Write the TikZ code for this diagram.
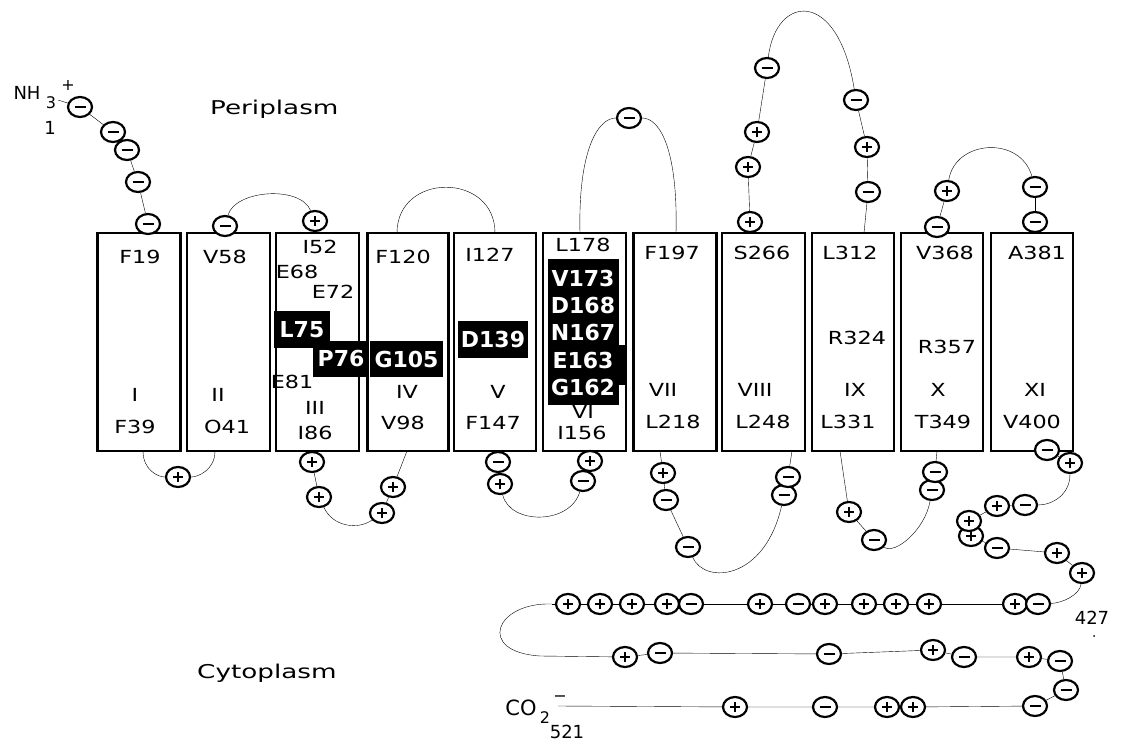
\documentclass[tikz,border=0pt]{standalone}
\usepackage{fontspec}
\setmainfont{DejaVu Sans}
\usepackage{graphicx}
\usetikzlibrary{shapes.geometric,backgrounds}
\newcommand{\hsc}[2][1.24]{\scalebox{#1}[1]{#2}}
\newcommand{\lbl}[3]{\node[lab] (#1) at (#2) {\hsc{#3}};}
\newcommand{\chP}[2]{\node[plusc] (#1) at (#2) {};}
\newcommand{\chN}[2]{\node[minusc] (#1) at (#2) {};}
\begin{document}
\begin{tikzpicture}[x=1pt,y=-1pt,
  tm/.style={draw, line width=2.4pt, minimum width=83pt, minimum height=218pt, inner sep=0pt},
  lab/.style={inner sep=0pt, font=\fontsize{18}{20}\selectfont},
  wl/.style={fill=black, text=white, inner sep=0pt, font=\fontsize{22}{24}\selectfont\bfseries},
  wt/.style={text=white, inner sep=0pt, font=\fontsize{22}{24}\selectfont\bfseries},
  chg/.style={ellipse, draw, line width=2.2pt, minimum width=24pt, minimum height=20pt, inner sep=0pt, fill=white},
  plusc/.style={chg, path picture={\draw[line width=2pt] ([xshift=-5pt]path picture bounding box.center) -- ([xshift=5pt]path picture bounding box.center) ([yshift=-5pt]path picture bounding box.center) -- ([yshift=5pt]path picture bounding box.center);}},
  minusc/.style={chg, path picture={\draw[line width=2.2pt] ([xshift=-5.5pt]path picture bounding box.center) -- ([xshift=5.5pt]path picture bounding box.center);}},
  con/.style={line width=2.1pt},
  big/.style={inner sep=0pt, font=\fontsize{19}{21}\selectfont},
  sm/.style={inner sep=0pt, font=\fontsize{16}{18}\selectfont},
]
\useasboundingbox (0,0) rectangle (1122,741);

% membrane helices
\node[tm] (b1) at (139,342) {};
\node[tm] (b2) at (228.5,342) {};
\node[tm] (b3) at (317.5,342) {};
\node[tm, minimum width=81pt] (b4) at (408,342) {};
\node[tm, minimum width=82pt] (b5) at (495,342) {};
\node[tm] (b6) at (584.5,342) {};
\node[tm] (b7) at (675,342) {};
\node[tm] (b8) at (763.5,342) {};
\node[tm, minimum width=82pt] (b9) at (853,342) {};
\node[tm, minimum width=82pt] (b10) at (942,342) {};
\node[tm, minimum width=82pt] (b11) at (1032,342) {};

% labels in helices
\lbl{l1a}{140,257}{F19}\lbl{l1b}{135,395}{I}\lbl{l1c}{135,427}{F39}
\lbl{l2a}{225,257}{V58}\lbl{l2b}{218,395}{II}\lbl{l2c}{227,427}{O41}
\lbl{l3a}{320,247}{I52}\lbl{l3b}{297,272}{E68}\lbl{l3c}{333,292}{E72}
\lbl{l3d}{292,382}{E81}\lbl{l3e}{315,408}{III}\lbl{l3f}{315,433}{I86}
\lbl{l4a}{403,257}{F120}\lbl{l4b}{407,392}{IV}\lbl{l4c}{403,423}{V98}
\lbl{l5a}{490,255}{I127}\lbl{l5b}{498,392}{V}\lbl{l5c}{493,423}{F147}
\lbl{l6a}{583,245}{L178}\lbl{l6b}{583,412}{VI}\lbl{l6c}{582,433}{I156}
\lbl{l7a}{672,253}{F197}\lbl{l7b}{663,390}{VII}\lbl{l7c}{673,422}{L218}
\lbl{l8a}{762,253}{S266}\lbl{l8b}{755,390}{VIII}\lbl{l8c}{763,422}{L248}
\lbl{l9a}{850,253}{L312}\lbl{l9d}{857,338}{R324}\lbl{l9b}{855,390}{IX}\lbl{l9c}{848,422}{L331}
\lbl{l10a}{945,253}{V368}\lbl{l10d}{947,347}{R357}\lbl{l10b}{938,390}{X}\lbl{l10c}{943,422}{T349}
\lbl{l11a}{1037,253}{A381}\lbl{l11b}{1035,390}{XI}\lbl{l11c}{1032,422}{V400}

% highlighted residues
\node[wl, minimum width=56pt, minimum height=37pt] (h75) at (302,329.5) {L75};
\node[wl, minimum width=56pt, minimum height=36pt] (h76) at (341,359) {P76};
\node[wl, minimum width=73pt, minimum height=36pt] (h105) at (406.5,359) {G105};
\node[wl, minimum width=70pt, minimum height=37pt] (h139) at (493,339.5) {D139};
\node[fill=black, minimum width=71pt, minimum height=146pt, inner sep=0pt] (h6) at (583.5,332) {};
\node[fill=black, minimum width=8pt, minimum height=40pt, inner sep=0pt] (h6x) at (621,365) {};
\node[wt] (h173) at (583,278) {V173};
\node[wt] (h168) at (583,305) {D168};
\node[wt] (h167) at (583,333) {N167};
\node[wt] (h163) at (583,360) {E163};
\node[wt] (h162) at (583,387) {G162};

% compartment labels
\node[big, anchor=base west] (peri) at (210,115) {\hsc[1.38]{Periplasm}};
\node[big, anchor=base west] (cyto) at (197,678) {\hsc[1.38]{Cytoplasm}};

% termini labels
\node[lab] (nh) at (27,93) {NH};
\node[sm] (n3) at (51,103) {3};
\node[sm] (nplus) at (68,85) {+};
\node[lab] (n1) at (50,128) {1};
\node[inner sep=0pt, font=\fontsize{21}{23}\selectfont] (co) at (521,708) {CO};
\node[sm] (co2) at (545,718) {2};
\node[sm] (comin) at (560,699) {\textminus};
\node[lab] (c521) at (567,732) {521};
\node[lab] (c427) at (1092,618) {427};
\fill (1094,636) circle (1pt);

% charged residues
\chN{a1}{80,107}\chN{a2}{113,132}\chN{a3}{127,150}\chN{a4}{138,182}\chN{a5}{148,224}
\chN{a6}{225,226}\chP{a7}{315,221}
\chP{a8}{178,477}
\chP{a9}{312,462}\chP{a10}{319,497}\chP{a11}{382,513}\chP{a12}{393,487}
\chN{a13}{498,462}\chP{a14}{500,484}\chN{a15}{583,481}\chP{a16}{590,461}
\chN{a17}{629,118}
\chP{a18}{750,222}\chP{a19}{748,167}\chP{a20}{757,132}\chN{a21}{767,68}
\chN{a22}{856,100}\chP{a23}{867,147}\chN{a24}{868,192}
\chN{a25}{937,227}\chP{a26}{947,191}\chN{a27}{1035,187}\chN{a28}{1035,222}
\chP{a29}{663,473}\chN{a30}{666,500}\chN{a31}{688,547}\chN{a32}{784,495}\chN{a33}{788,477}
\chP{a34}{849,512}\chN{a35}{874,540}\chN{a36}{932,490}\chN{a37}{935,472}
\chN{a38}{1047,450}\chP{a39}{1070,463}\chN{a40}{1025,505}\chP{a41}{997,506}
\chP{a43}{971,536}\chP{a42}{969,521}\chN{a44}{997,548}\chP{a45}{1057,553}\chP{a46}{1082,573}
\foreach \n/\t/\x in {r1/plusc/568,r2/plusc/600,r3/plusc/632,r4/plusc/667,r5/minusc/691,r6/plusc/760,r7/minusc/798,r8/plusc/825,r9/plusc/864,r10/plusc/896,r11/plusc/929,r12/plusc/1015,r13/minusc/1038}
  \node[\t] (\n) at (\x,604) {};
\chP{s1}{625,657}\chN{s2}{660,653}\chN{s3}{829,654}\chP{s4}{933,650}\chN{s5}{964,657}
\chP{s6}{1029,657}\chN{s7}{1060,661}\chN{s8}{1066,690}\chN{s9}{1035,706}
\chP{t1}{735,707}\chN{t2}{825,707}\chP{t3}{887,707}\chP{t4}{913,707}

% free ends at helix edges
\coordinate (p1) at (143,451);
\coordinate (p2) at (215,451);
\coordinate (p3) at (407,451);
\coordinate (p4) at (397,233);
\coordinate (p5) at (495,233);
\coordinate (p6) at (580,233);
\coordinate (p7) at (676,233);
\coordinate (p8) at (660,451);
\coordinate (p9) at (792,451);
\coordinate (p10) at (864,233);
\coordinate (p11) at (840,451);
\coordinate (p12) at (937,451);
\coordinate (lp1) at (552,604);
\coordinate (lp2) at (540,656);
\coordinate (coe) at (558,706);
\coordinate (nte) at (58,100);

\begin{scope}[on background layer, con]
\draw (nte) -- (a1) -- (a2) -- (a3) -- (a4) -- (a5);
\draw (a6) .. controls (235,190) and (300,185) .. (a7);
\draw (p1) .. controls (143,470) and (158,477) .. (a8);
\draw (a8) .. controls (198,477) and (215,470) .. (p2);
\draw (a9) -- (a10);
\draw (a10) .. controls (333,527) and (358,530) .. (a11);
\draw (a11) -- (a12) -- (p3);
\draw (p4) .. controls (397,172) and (495,172) .. (p5);
\draw (a13) -- (a14);
\draw (a14) .. controls (510,525) and (570,525) .. (a15);
\draw (a15) -- (a16);
\draw (p6) .. controls (578,150) and (598,118) .. (a17);
\draw (a17) .. controls (660,118) and (678,150) .. (p7);
\draw (a18) -- (a19) -- (a20) -- (a21);
\draw (a21) .. controls (776,-6) and (838,-12) .. (a22);
\draw (a22) -- (a23) -- (a24) -- (p10);
\draw (a25) -- (a26);
\draw (a26) .. controls (955,140) and (1020,135) .. (a27);
\draw (a27) -- (a28);
\draw (p8) -- (a29) -- (a30) -- (a31);
\draw (a31) .. controls (705,585) and (765,580) .. (a32);
\draw (a32) -- (a33) -- (p9);
\draw (p11) -- (a34) -- (a35);
\draw (a35) .. controls (895,555) and (925,530) .. (a36);
\draw (a36) -- (a37) -- (p12);
\draw (a38) -- (a39);
\draw (a39) .. controls (1070,495) and (1052,505) .. (a40);
\draw (a40) -- (a41) -- (a42) -- (a43) -- (a44) -- (a45) -- (a46);
\draw (a46) .. controls (1080,595) and (1062,603) .. (r13);
\draw (r13) -- (r12) -- (r11) -- (r10) -- (r9) -- (r8) -- (r7) -- (r6) -- (r5) -- (r4) -- (r3) -- (r2) -- (r1) -- (lp1);
\draw (lp1) .. controls (495,602) and (476,652) .. (lp2);
\draw (lp2) -- (s1) -- (s2) -- (s3) -- (s4) -- (s5) -- (s6) -- (s7) -- (s8) -- (s9);
\draw (coe) -- (t1) -- (t2) -- (t3) -- (t4) -- (s9);
\end{scope}
\end{tikzpicture}
\end{document}
